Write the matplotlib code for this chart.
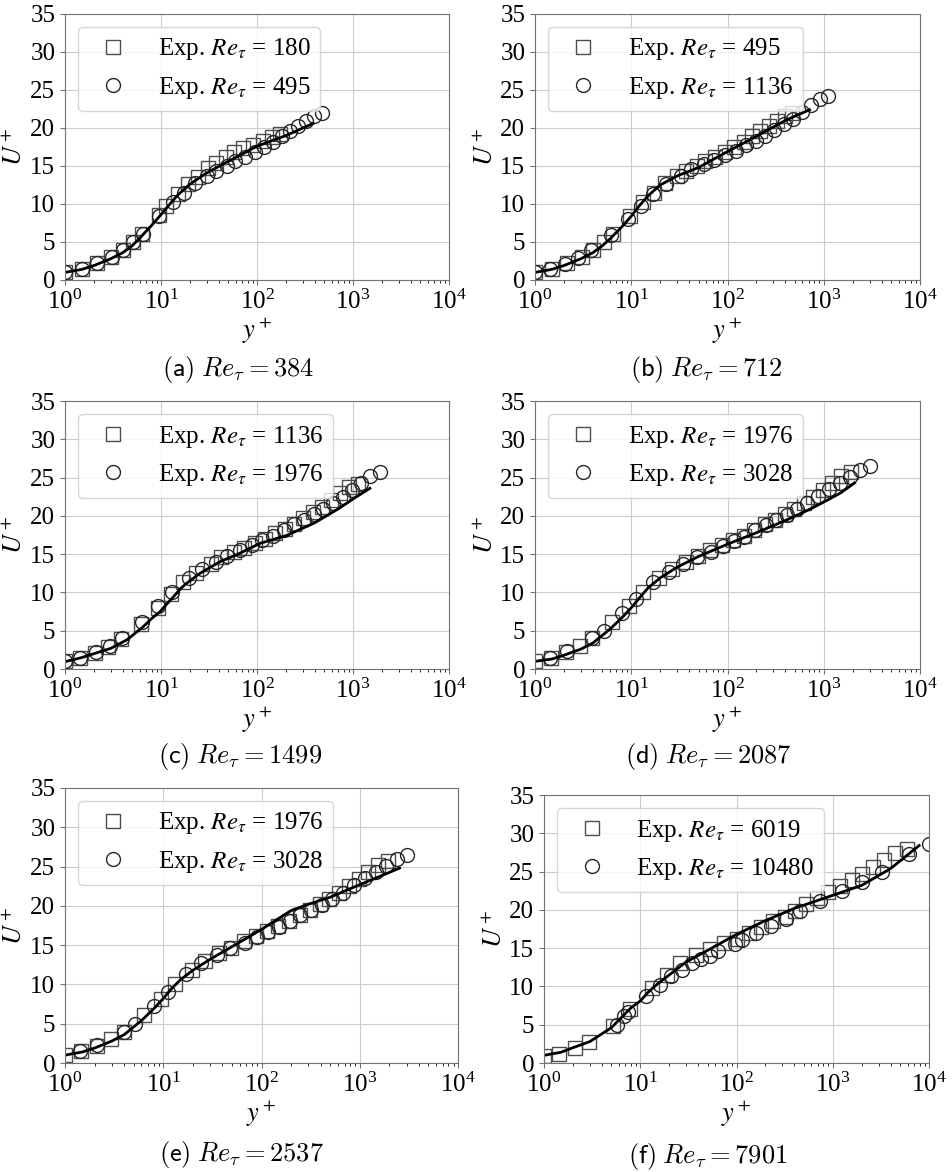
import matplotlib
matplotlib.use('Agg')
import matplotlib.pyplot as plt

plt.rcParams['font.family'] = 'serif'
plt.rcParams['font.serif'] = ['Liberation Serif', 'DejaVu Serif']
plt.rcParams['mathtext.fontset'] = 'stix'
plt.rcParams['font.size'] = 17

# experimental profiles (y+, U+)
yp_180 = [1.0, 1.49, 2.14, 3.0, 4.0, 5.15, 6.4, 9.6, 11.2, 15.1, 19.3, 24.1, 31, 37, 47.6, 57.6, 72, 91, 116, 142, 173]
U_180 = [1.0, 1.5, 2.2, 3.0, 3.9, 5.0, 6.1, 8.6, 9.7, 11.3, 12.6, 13.6, 14.7, 15.4, 16.2, 16.8, 17.4, 17.8, 18.3, 18.8, 19.2]

yp_495 = [1.0, 1.49, 2.14, 3.06, 4.05, 5.15, 6.43, 9.6, 13.4, 17.4, 22.5, 29.9, 37.3, 48.3, 58.9, 75.0, 95.2, 118, 147, 181, 220, 268, 324, 397, 471]
U_495 = [1.0, 1.4, 2.2, 3.0, 3.9, 5.0, 6.1, 8.4, 10.3, 11.4, 12.7, 13.7, 14.4, 15.0, 15.6, 16.2, 16.9, 17.5, 18.2, 18.9, 19.6, 20.3, 20.9, 21.6, 22.0]

yp_1136 = [1.0, 1.43, 2.05, 2.83, 3.8, 6.2, 9.2, 12.6, 16.8, 23.0, 32.8, 42.2, 57, 73, 95, 122, 154, 196, 243, 305, 382, 477, 595, 740, 914, 1120]
U_1136 = [1.0, 1.4, 2.1, 2.9, 3.9, 5.9, 8.0, 9.8, 11.3, 12.6, 13.7, 14.6, 15.3, 15.8, 16.4, 17.0, 17.7, 18.3, 19.0, 19.7, 20.5, 21.2, 22.1, 23.0, 23.8, 24.2]

yp_1976 = [1.0, 1.45, 2.1, 2.92, 3.94, 6.35, 9.4, 13.1, 19.5, 26.5, 37, 49, 66, 88, 114, 148, 189, 245, 311, 392, 489, 620, 779, 975, 1210, 1520, 1930]
U_1976 = [1.0, 1.5, 2.2, 3.0, 4.0, 6.1, 8.2, 10.0, 11.9, 13.0, 14.0, 14.7, 15.5, 16.2, 16.8, 17.4, 18.1, 18.9, 19.5, 20.2, 20.9, 21.7, 22.5, 23.4, 24.3, 25.2, 25.7]

yp_3028 = [1.43, 2.14, 3.95, 5.15, 8.0, 11.3, 17.0, 24.5, 34.9, 48.3, 67.8, 89.5, 116, 149, 195, 249, 316, 414, 522, 677, 874, 1130, 1475, 1867, 2400, 3040]
U_3028 = [1.5, 2.3, 4.0, 5.0, 7.3, 9.1, 11.3, 12.7, 13.7, 14.6, 15.3, 16.0, 16.7, 17.3, 18.1, 18.8, 19.5, 20.1, 20.9, 21.7, 22.6, 23.5, 24.3, 25.1, 26.0, 26.5]

yp_6019 = [1.0, 1.44, 2.1, 2.95, 5.16, 7.8, 13.1, 18.8, 25.8, 38.4, 52.9, 74.5, 100, 135, 178, 237, 318, 404, 532, 687, 893, 1176, 1567, 2034, 2631, 3388, 4450, 5900]
U_6019 = [0.9, 1.2, 2.0, 2.8, 4.8, 7.0, 9.8, 11.5, 13.0, 14.1, 14.9, 15.7, 16.2, 17.0, 17.8, 18.5, 19.1, 19.9, 20.7, 21.5, 22.3, 23.1, 23.9, 24.7, 25.6, 26.5, 27.4, 27.9]

yp_10480 = [5.67, 6.77, 7.5, 11.6, 16.2, 21.1, 27.3, 34.6, 43.2, 53.5, 64.6, 96, 115, 161, 231, 324, 455, 741, 1248, 2010, 3250, 6260, 10000]
U_10480 = [5.0, 6.1, 6.6, 8.7, 10.2, 11.3, 12.1, 13.0, 13.6, 14.0, 14.6, 15.6, 16.0, 17.0, 17.9, 18.8, 19.8, 21.1, 22.4, 23.7, 25.0, 27.3, 28.6]

# simulation profiles, one per panel
sim_yp_a = [1, 1.5, 2, 3, 4, 5, 6, 8, 10, 12, 15, 20, 30, 50, 100, 200, 384]
sim_U_a = [1.0, 1.4, 1.9, 2.8, 3.6, 4.5, 5.5, 7.2, 8.6, 9.8, 11.2, 12.6, 14.1, 15.6, 17.6, 19.0, 20.6]
sim_yp_b = [1, 1.5, 2, 3, 4, 5, 6, 8, 10, 12, 15, 20, 30, 50, 100, 200, 400, 712]
sim_U_b = [1.0, 1.4, 1.9, 2.8, 3.6, 4.5, 5.4, 7.0, 8.4, 9.7, 11.1, 12.5, 13.7, 14.8, 16.9, 18.9, 21.0, 22.4]
sim_yp_c = [1, 1.5, 2, 3, 4.4, 6.5, 8, 9.8, 11.5, 13.4, 16, 18.5, 25.5, 41, 66, 107, 200, 400, 700, 1000, 1499]
sim_U_c = [0.95, 1.5, 2.0, 2.7, 3.8, 5.5, 6.6, 7.5, 8.5, 9.4, 10.5, 11.2, 12.5, 14.0, 15.1, 16.4, 17.4, 19.1, 20.9, 22.2, 23.6]
sim_yp_d = [1, 1.5, 2, 3, 4, 6, 8, 10, 12, 15, 20, 30, 50, 100, 200, 400, 700, 1000, 1500, 2087]
sim_U_d = [1.0, 1.3, 1.8, 2.6, 3.4, 5.2, 6.7, 8.0, 9.2, 10.6, 11.9, 13.3, 14.7, 16.3, 17.8, 19.4, 20.8, 21.8, 23.0, 24.3]
sim_yp_e = [1, 1.5, 2, 3, 4, 6, 8, 10, 12, 15, 20, 30, 50, 100, 200, 300, 500, 1000, 1500, 2537]
sim_U_e = [1.0, 1.4, 1.9, 2.8, 3.6, 5.4, 6.9, 8.2, 9.4, 10.6, 11.8, 13.2, 14.8, 17.0, 19.4, 20.2, 21.1, 22.7, 23.6, 24.8]
sim_yp_f = [1, 1.5, 2, 3, 5, 8, 10, 12, 15, 20, 30, 50, 100, 200, 400, 1000, 2000, 4000, 7901]
sim_U_f = [1.0, 1.4, 2.0, 2.8, 4.6, 7.2, 8.1, 9.2, 10.3, 11.5, 13.2, 14.7, 16.8, 18.6, 20.2, 21.9, 23.2, 25.4, 28.4]

exp_sets = {
    180: (yp_180, U_180), 495: (yp_495, U_495), 1136: (yp_1136, U_1136),
    1976: (yp_1976, U_1976), 3028: (yp_3028, U_3028),
    6019: (yp_6019, U_6019), 10480: (yp_10480, U_10480),
}

panels = [
    ('a', 384, 180, 495, sim_yp_a, sim_U_a),
    ('b', 712, 495, 1136, sim_yp_b, sim_U_b),
    ('c', 1499, 1136, 1976, sim_yp_c, sim_U_c),
    ('d', 2087, 1976, 3028, sim_yp_d, sim_U_d),
    ('e', 2537, 1976, 3028, sim_yp_e, sim_U_e),
    ('f', 7901, 6019, 10480, sim_yp_f, sim_U_f),
]

# axes boxes in pixels: left, top, right, bottom
boxes = [(65, 14, 449, 280), (535, 14, 920, 280),
         (65, 401, 449, 669), (535, 401, 920, 669),
         (65, 788, 458, 1063), (544, 795, 929, 1063)]
captions = [(238, 370), (706, 370), (240, 757), (708, 757), (241, 1155), (708, 1157)]

W, H = 952, 1172
fig = plt.figure(figsize=(W / 100, H / 100), dpi=100)

for (tag, re_sim, re1, re2, syp, sU), (l, t, r, b), (cx, cy) in zip(panels, boxes, captions):
    ax = fig.add_axes([l / W, 1 - b / H, (r - l) / W, (b - t) / H])
    ax.set_xscale('log')
    ax.grid(True, which='major', color='#cccccc', linewidth=0.8)
    ax.set_axisbelow(True)
    y1, u1 = exp_sets[re1]
    y2, u2 = exp_sets[re2]
    ax.plot(y1, u1, 's', ms=9.5, mfc='none', mec='0.3', mew=1.0,
            label=r'Exp. $Re_\tau$ = %d' % re1)
    ax.plot(y2, u2, 'o', ms=10, mfc='none', mec='0.15', mew=1.0,
            label=r'Exp. $Re_\tau$ = %d' % re2)
    ax.plot(syp, sU, '-', color='black', lw=2)
    ax.set_xlim(1, 1e4)
    ax.set_ylim(0, 35)
    ax.set_yticks(range(0, 36, 5))
    ax.set_xlabel(r'$y^+$', fontsize=19, labelpad=1)
    ax.set_ylabel(r'$U^+$', fontsize=19, labelpad=2)
    for s in ax.spines.values():
        s.set_color('0.45')
    ax.tick_params(colors='0.45', labelcolor='black', labelsize=18)
    ax.legend(loc='upper left', fontsize=18)
    fig.text(cx / W, 1 - cy / H, r'$\mathsf{(%s)}\;Re_\tau = %d$' % (tag, re_sim),
             ha='center', va='center', fontsize=19, math_fontfamily='cm')

fig.savefig('out.png', dpi=100)
